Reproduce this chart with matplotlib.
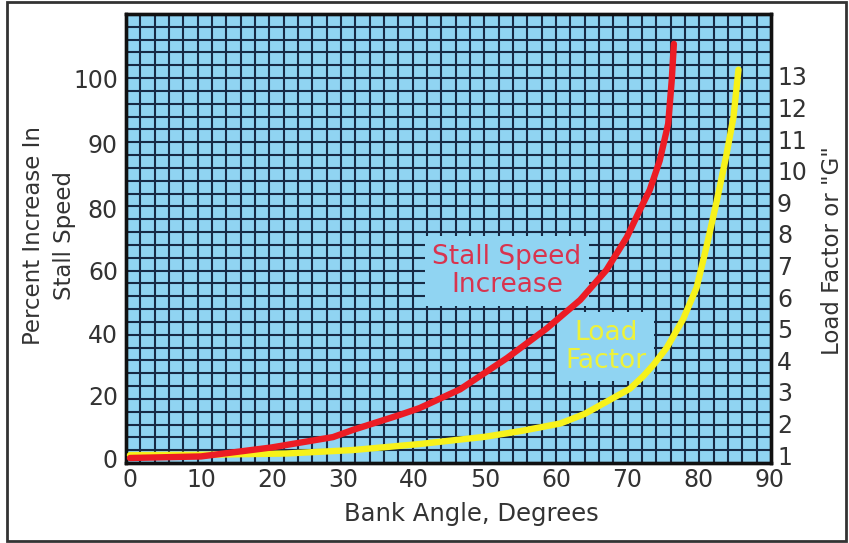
import numpy as np
import matplotlib
matplotlib.use("Agg")
import matplotlib.pyplot as plt
from matplotlib.patches import Rectangle
from matplotlib.collections import LineCollection

# ---- data ----
bank_red = [0, 10, 20, 28.6, 31.4, 38, 40.8, 46.5, 53.1, 58.7, 63.4, 67.1, 70, 71.8,
            73.2, 74.6, 75.8, 76.3, 76.6]
stall_increase = [0, 0.5, 3.4, 6.7, 9.0, 13.8, 16.0, 22.0, 32.0, 41.5, 50.6, 60.2, 70.8,
                  79.4, 82.8, 87.3, 93.0, 99.7, 105.3]

bank_yellow = [0, 10, 22, 31.4, 40.8, 50, 55, 60.6, 64, 67.6, 70.4, 72.3, 73.7, 75.6,
               77.9, 79.8, 81.2, 82.6, 84.0, 85.0, 85.7]
load_factor = [1.0, 1.01, 1.05, 1.16, 1.35, 1.58, 1.76, 2.0, 2.3, 2.75, 3.1, 3.5, 3.85,
               4.4, 5.3, 6.3, 7.6, 9.0, 10.5, 11.7, 13.2]

x_ticks = [0, 10, 20, 30, 40, 50, 60, 70, 80, 90]
left_ticks = [0, 20, 40, 60, 80, 90, 100]
right_ticks = [1, 2, 3, 4, 5, 6, 7, 8, 9, 10, 11, 12, 13]

# ---- styling ----
BG = "#90d4f2"
GRID = "#172a45"
RED = "#ec1c24"
YELLOW = "#f7f21a"
TXT = "#333333"

W, H = 849, 543
fig = plt.figure(figsize=(W / 100, H / 100), dpi=100)
fig.patch.set_facecolor("white")
fig.add_artist(Rectangle((7 / W, 2 / H), (846 - 7) / W, (541 - 2) / H,
                         transform=fig.transFigure, fill=False, lw=2, ec="#333333"))

ax = fig.add_axes([126 / W, (H - 463) / H, 645 / W, 449 / H])
ax.set_facecolor(BG)

# left axis is stretched above 80 (as in the original chart)
K = 2.08
def fwd(v):
    v = np.asarray(v, float)
    return np.where(v <= 80, v, 80 + (v - 80) * K)
def inv(u):
    u = np.asarray(u, float)
    return np.where(u <= 80, u, 80 + (u - 80) / K)
ax.set_yscale("function", functions=(fwd, inv))

ax.set_xlim(-0.56, 90.28)
ax.set_ylim(-1.6, 109.9)

# background grid (decorative, in axes fraction)
ncol, nrow = 45, 35
segs = [[(i / ncol, 0), (i / ncol, 1)] for i in range(1, ncol)]
segs += [[(0, j / nrow), (1, j / nrow)] for j in range(1, nrow)]
ax.add_collection(LineCollection(segs, colors=GRID, linewidths=1.5,
                                 transform=ax.transAxes, zorder=1))

box = dict(boxstyle="square,pad=0.3", fc=BG, ec="none")
ax.text(53.1, 60, "Stall Speed\nIncrease", ha="center", va="center", fontsize=19,
        color="#d8344f", linespacing=1.1, bbox=box, zorder=3)
ax.text(67.0, 35.7, "Load\nFactor", ha="center", va="center", fontsize=19,
        color="#eef23a", linespacing=1.1, bbox=box, zorder=3)

ax.set_xticks(x_ticks)
ax.set_yticks(left_ticks)
ax.set_yticklabels([str(t) for t in left_ticks])
ax.yaxis.set_minor_locator(matplotlib.ticker.NullLocator())
ax.tick_params(axis="x", length=0, labelsize=17, labelcolor=TXT, pad=3.6)
ax.tick_params(axis="y", length=0, labelsize=17, labelcolor=TXT, pad=5.8)

ax.set_xlabel("Bank Angle, Degrees", fontsize=17.5, color=TXT, va="center")
ax.xaxis.set_label_coords(0.535, -0.114)
ax.set_ylabel("Percent Increase In\nStall Speed", fontsize=16.5, color=TXT,
              linespacing=1.45, va="center", ha="center")
ax.yaxis.set_label_coords(-0.119, 0.506)

ax2 = ax.twinx()
ax2.plot(bank_yellow, load_factor, color=YELLOW, lw=4.6, solid_capstyle="round", zorder=4)
# red series uses the left (stall speed) scale, drawn on top of the yellow one
ax2.plot(bank_red, stall_increase, color=RED, lw=4.6, solid_capstyle="round", zorder=5,
         transform=ax.transData)
ax2.set_xlim(-0.56, 90.28)
ax2.set_ylim(0.75, 14.96)
ax2.set_yticks(right_ticks)
ax2.tick_params(axis="y", length=0, labelsize=17, labelcolor=TXT, pad=4.3)
ax2.set_ylabel('Load Factor or "G"', fontsize=16.5, color=TXT, rotation=90,
               va="center", ha="center")
ax2.yaxis.set_label_coords(1.096, 0.474)

for a in (ax, ax2):
    for s in a.spines.values():
        s.set_linewidth(2.4)
        s.set_color("#111111")

fig.savefig("out.png", dpi=100)
